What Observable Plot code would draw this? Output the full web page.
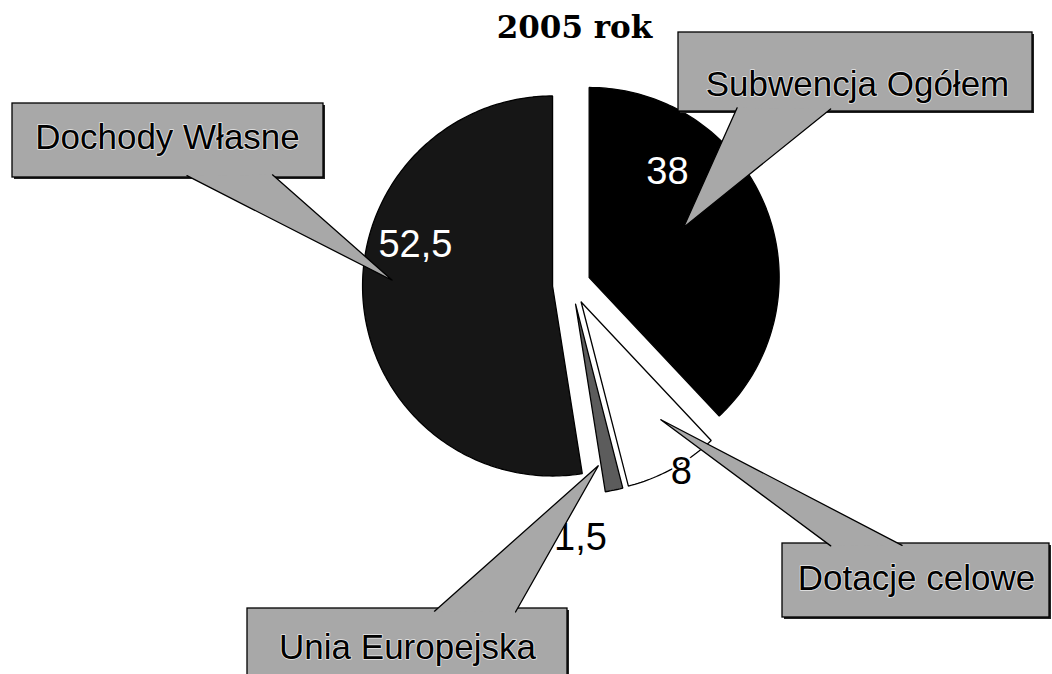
<!DOCTYPE html>
<html><head><meta charset="utf-8">
<script src="https://cdn.jsdelivr.net/npm/d3@7"></script>
<script src="https://cdn.jsdelivr.net/npm/@observablehq/plot@0.6"></script>
<style>html,body{margin:0;padding:0;background:#fff;} svg{display:block}</style>
</head><body><div id="chart"></div>
<script>
// ---- data ----
const title = "2005 rok";
const categories = ["Subwencja Ogółem", "Dotacje celowe", "Unia Europejska", "Dochody Własne"];
const values = [38, 8, 1.5, 52.5];
const valueLabels = ["38", "8", "1,5", "52,5"];

// ---- layout / style ----
const W = 1052, H = 674;
const pie = {cx: 571, cy: 284, r: 190};
const explode = [19, 20, 20, 19];
const sliceFill = ["#000000", "#ffffff", "#5c5c5c", "#161616"];
const valueFill = ["#ffffff", "#000000", "#000000", "#ffffff"];
const labelPolar = [[36.4, 0.694], [149.4, 1.037], [178.8, 1.229], [286.8, 0.754]]; // angle deg, radius fraction
const callouts = [
  {box: [678, 32, 1032, 111], tx: 857, ty: 84.5, base: [[735, 111], [827, 111]], tip: [683, 227]},
  {box: [782, 543, 1049, 617], tx: 916, ty: 578, base: [[827, 543], [898, 543]], tip: [660, 419]},
  {box: [247, 608, 567, 700], tx: 407, ty: 647, base: [[437, 608], [517, 608]], tip: [598, 465]},
  {box: [12, 103, 323, 177], tx: 167, ty: 137.5, base: [[190, 177], [275, 177]], tip: [392, 280]}
];
const boxFill = "#a8a8a8";

// ---- geometry from data ----
const arcs = d3.pie().sort(null).value(d => d)(values);
const rad = Math.PI / 180;
const slices = arcs.map((a, i) => {
  const mid = (a.startAngle + a.endAngle) / 2;
  const cx = pie.cx + explode[i] * Math.sin(mid);
  const cy = pie.cy - explode[i] * Math.cos(mid);
  const n = Math.max(2, Math.ceil((a.endAngle - a.startAngle) / rad));
  const pts = [{x: cx, y: cy}];
  for (let k = 0; k <= n; k++) {
    const t = a.startAngle + (a.endAngle - a.startAngle) * k / n;
    pts.push({x: cx + pie.r * Math.sin(t), y: cy - pie.r * Math.cos(t)});
  }
  pts.push({x: cx, y: cy});
  const [ang, f] = labelPolar[i];
  return {
    i, cx, cy, pts, category: categories[i], value: values[i],
    lx: cx + f * pie.r * Math.sin(ang * rad),
    ly: cy - f * pie.r * Math.cos(ang * rad),
    label: valueLabels[i]
  };
});

function pointerPts(c) {
  const [tx, ty] = c.tip;
  const ext = p => {
    const dx = p[0] - tx, dy = p[1] - ty, L = Math.hypot(dx, dy);
    return {x: p[0] + dx / L * 4, y: p[1] + dy / L * 4};
  };
  return [ext(c.base[0]), {x: tx, y: ty}, ext(c.base[1])];
}

const marks = [];
// slices
slices.forEach((s, i) => {
  marks.push(Plot.line(s.pts, {x: "x", y: "y", fill: sliceFill[i], stroke: "#000", strokeWidth: 1.3, strokeLinejoin: "miter"}));
});
// value labels
slices.forEach((s, i) => {
  marks.push(Plot.text([s], {
    x: "lx", y: "ly", text: "label", fontSize: 38, fontFamily: "Liberation Sans, Arial, sans-serif",
    fill: valueFill[i],
    stroke: valueFill[i] === "#000000" ? "#fff" : "none", strokeWidth: 5, paintOrder: "stroke"
  }));
});
// callouts
callouts.forEach((c, i) => {
  const d = [{...c, name: categories[i]}];
  marks.push(Plot.rect(d, {x1: v => v.box[0] + 2, y1: v => v.box[1] + 2, x2: v => v.box[2] + 2, y2: v => v.box[3] + 2, fill: "#222"}));
  marks.push(Plot.rect(d, {x1: v => v.box[0], y1: v => v.box[1], x2: v => v.box[2], y2: v => v.box[3], fill: boxFill, stroke: "#000", strokeWidth: 1.3}));
  marks.push(Plot.line(pointerPts(c), {x: "x", y: "y", fill: boxFill, stroke: "#000", strokeWidth: 1.3, strokeLinejoin: "miter"}));
  marks.push(Plot.text(d, {
    x: "tx", y: "ty", text: "name", fontSize: 35, fontFamily: "Liberation Sans, Arial, sans-serif",
    fill: "#000", stroke: "#e8e8e8", strokeWidth: 1.5, paintOrder: "stroke"
  }));
});
// title
marks.push(Plot.text([title], {
  x: () => 574, y: () => 27.5, text: d => d, fontSize: 31, fontWeight: "bold",
  fontFamily: "DejaVu Serif, serif", fill: "#000"
}));

const chart = Plot.plot({
  width: W, height: H,
  margin: 0,
  x: {domain: [0, W], range: [0, W], axis: null},
  y: {domain: [0, H], range: [0, H], axis: null},
  style: {background: "#fff"},
  marks
});
document.getElementById("chart").appendChild(chart);
</script>
</body></html>
